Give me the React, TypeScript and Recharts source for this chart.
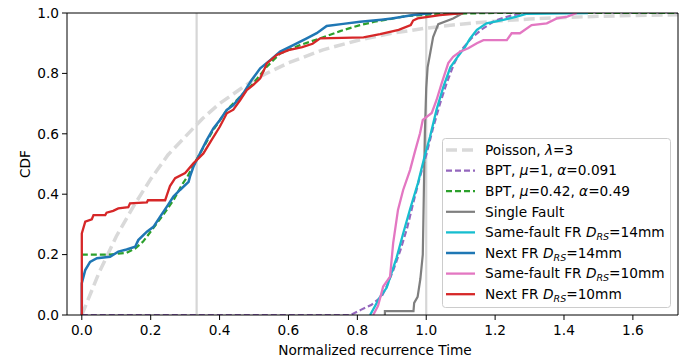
import React from "react";
import { LineChart, Line, XAxis, YAxis, ReferenceLine, Label } from "recharts";

// CDF of normalized recurrence times.
type Pt = [number, number];

const xTicks = [0, 0.2, 0.4, 0.6, 0.8, 1.0, 1.2, 1.4, 1.6];
const yTicks = [0, 0.2, 0.4, 0.6, 0.8, 1.0];
const xDomain: [number, number] = [-0.043, 1.731];
const markerXs = [1 / 3, 1.0];

const poisson: Pt[] = [
  [0, 0], [0.05, 0.14], [0.1, 0.26], [0.15, 0.36], [0.2, 0.45], [0.25, 0.53], [0.3, 0.59],
  [0.35, 0.65], [0.4, 0.7], [0.45, 0.74], [0.5, 0.78], [0.6, 0.835], [0.7, 0.878], [0.8, 0.909],
  [0.9, 0.933], [1.0, 0.95], [1.1, 0.963], [1.2, 0.973], [1.3, 0.98], [1.4, 0.985], [1.5, 0.989],
  [1.6, 0.992], [1.73, 0.994],
];

const bptNarrow: Pt[] = [
  [0, 0], [0.78, 0], [0.81, 0.017], [0.84, 0.033], [0.87, 0.06], [0.885, 0.094], [0.905, 0.15],
  [0.925, 0.215], [0.945, 0.29], [0.962, 0.37], [0.98, 0.45], [1.0, 0.53], [1.02, 0.62],
  [1.04, 0.7], [1.06, 0.77], [1.08, 0.83], [1.1, 0.875], [1.13, 0.915], [1.16, 0.945],
  [1.2, 0.975], [1.25, 0.993], [1.3, 1.0], [1.73, 1.0],
];

const bptWide: Pt[] = [
  [0, 0.2], [0.08, 0.2], [0.13, 0.206], [0.155, 0.22], [0.178, 0.243], [0.207, 0.287],
  [0.236, 0.331], [0.266, 0.38], [0.29, 0.43], [0.305, 0.455], [0.324, 0.495], [0.343, 0.535],
  [0.382, 0.613], [0.421, 0.679], [0.46, 0.723], [0.498, 0.767], [0.537, 0.822], [0.576, 0.866],
  [0.634, 0.894], [0.692, 0.916], [0.75, 0.94], [0.808, 0.96], [0.85, 0.971], [0.943, 0.99],
  [1.04, 0.997], [1.2, 1.0], [1.73, 1.0],
];

const singleFault: Pt[] = [
  [0.88, 0], [0.88, 0.013], [0.963, 0.013], [0.965, 0.04], [0.975, 0.06], [0.983, 0.12],
  [0.99, 0.2], [0.993, 0.4], [0.996, 0.6], [1.0, 0.75], [1.004, 0.82], [1.012, 0.87],
  [1.02, 0.92], [1.035, 0.963], [1.078, 0.982], [1.107, 1.0],
];

const sameFr14: Pt[] = [
  [0.837, 0], [0.866, 0.06], [0.885, 0.09], [0.914, 0.19], [0.933, 0.27], [0.953, 0.35],
  [0.976, 0.437], [0.995, 0.524], [1.011, 0.59], [1.03, 0.68], [1.05, 0.756], [1.07, 0.82],
  [1.088, 0.85], [1.113, 0.888], [1.127, 0.915], [1.147, 0.944], [1.175, 0.966], [1.224, 0.977],
  [1.263, 0.988], [1.29, 0.997], [1.47, 1.0],
];

const nextFr14: Pt[] = [
  [0, 0], [0, 0.105], [0.01, 0.149], [0.024, 0.176], [0.044, 0.188], [0.082, 0.193],
  [0.106, 0.21], [0.13, 0.217], [0.155, 0.226], [0.164, 0.248], [0.189, 0.276], [0.208, 0.292],
  [0.227, 0.325], [0.247, 0.359], [0.266, 0.392], [0.285, 0.414], [0.31, 0.441], [0.314, 0.458],
  [0.324, 0.491], [0.343, 0.535], [0.363, 0.58], [0.382, 0.618], [0.401, 0.646], [0.421, 0.679],
  [0.44, 0.695], [0.469, 0.734], [0.493, 0.778], [0.518, 0.817], [0.547, 0.844], [0.576, 0.872],
  [0.614, 0.894], [0.653, 0.916], [0.682, 0.933], [0.711, 0.957], [0.759, 0.964], [0.808, 0.971],
  [0.87, 0.978], [0.9, 0.982], [0.962, 0.993], [1.017, 1.0],
];

const sameFr10: Pt[] = [
  [0.846, 0], [0.86, 0.03], [0.875, 0.094], [0.895, 0.127], [0.904, 0.238], [0.918, 0.348],
  [0.933, 0.414], [0.953, 0.48], [0.967, 0.54], [0.982, 0.602], [0.99, 0.646], [1.016, 0.669],
  [1.03, 0.712], [1.045, 0.768], [1.064, 0.834], [1.078, 0.855], [1.098, 0.872], [1.122, 0.883],
  [1.147, 0.9], [1.166, 0.91], [1.234, 0.91], [1.248, 0.933], [1.272, 0.933], [1.306, 0.96],
  [1.35, 0.966], [1.379, 0.982], [1.41, 0.988], [1.437, 1.0],
];

const nextFr10: Pt[] = [
  [0, 0], [0, 0.27], [0.01, 0.309], [0.029, 0.317], [0.034, 0.331], [0.068, 0.331],
  [0.072, 0.339], [0.091, 0.345], [0.106, 0.353], [0.135, 0.357], [0.14, 0.37], [0.189, 0.373],
  [0.192, 0.38], [0.242, 0.38], [0.247, 0.397], [0.256, 0.427], [0.271, 0.453], [0.3, 0.47],
  [0.324, 0.502], [0.353, 0.535], [0.377, 0.58], [0.401, 0.624], [0.421, 0.668], [0.44, 0.68],
  [0.46, 0.712], [0.479, 0.745], [0.498, 0.762], [0.518, 0.784], [0.527, 0.806], [0.537, 0.833],
  [0.566, 0.861], [0.6, 0.877], [0.64, 0.887], [0.67, 0.898], [0.692, 0.916], [0.818, 0.919],
  [0.866, 0.93], [0.92, 0.944], [0.955, 0.96], [0.962, 0.975], [0.975, 0.982], [1.04, 0.993],
  [1.107, 1.0],
];

const FONT = "'DejaVu Sans', sans-serif";
const FS = 13.7;

const toRows = (pts: Pt[]) => pts.map(([x, y]) => ({ x, y }));

const italic = (s: string) => <tspan fontStyle="italic">{s}</tspan>;
const dRs = (
  <>
    {italic("D")}
    <tspan fontStyle="italic" fontSize={9.5} dy={3}>RS</tspan>
    <tspan dy={-3}>=</tspan>
  </>
);

const series = [
  { key: "poisson", data: poisson, color: "#d9d9d9", width: 3.5, dash: "11 5",
    label: <>Poisson, {italic("λ")}=3</> },
  { key: "bpt1", data: bptNarrow, color: "#9467bd", width: 2.2, dash: "6 3",
    label: <>BPT, {italic("μ")}=1, {italic("α")}=0.091</> },
  { key: "bpt2", data: bptWide, color: "#2ca02c", width: 2.2, dash: "6 3",
    label: <>BPT, {italic("μ")}=0.42, {italic("α")}=0.49</> },
  { key: "single", data: singleFault, color: "#7f7f7f", width: 2.2, dash: undefined,
    label: <>Single Fault</> },
  { key: "same14", data: sameFr14, color: "#17becf", width: 2.3, dash: undefined,
    label: <>Same-fault FR {dRs}14mm</> },
  { key: "next14", data: nextFr14, color: "#1f77b4", width: 2.5, dash: undefined,
    label: <>Next FR {dRs}14mm</> },
  { key: "same10", data: sameFr10, color: "#e377c2", width: 2.3, dash: undefined,
    label: <>Same-fault FR {dRs}10mm</> },
  { key: "next10", data: nextFr10, color: "#d62728", width: 2.3, dash: undefined,
    label: <>Next FR {dRs}10mm</> },
];

function LegendBox() {
  return (
    <svg width={231} height={172} style={{ position: "absolute", left: 441, top: 137 }}>
      <rect x={1.5} y={1.5} width={228} height={169} rx={3} fill="rgba(255,255,255,0.85)" stroke="#cccccc" />
      {series.map((s, i) => {
        const cy = 13 + i * 20.6;
        return (
          <g key={s.key}>
            <line x1={5} x2={34} y1={cy} y2={cy} stroke={s.color} strokeWidth={s.width} strokeDasharray={s.dash} />
            <text x={44} y={cy + 4.8} fontSize={FS} fontFamily={FONT} fill="#000">
              {s.label}
            </text>
          </g>
        );
      })}
    </svg>
  );
}

export default function App() {
  const tick = { fontSize: FS, fill: "#000", fontFamily: FONT };
  return (
    <div style={{ position: "absolute", left: 0, top: 0, width: 694, height: 363, background: "#fff" }}>
      <LineChart width={694} height={363} margin={{ top: 13, right: 16, bottom: 0, left: 0 }}>
        <XAxis
          dataKey="x"
          type="number"
          domain={xDomain}
          ticks={xTicks}
          allowDataOverflow
          tickFormatter={(v: number) => v.toFixed(1)}
          height={48}
          tick={tick}
          tickSize={5}
          tickMargin={5}
          stroke="#000"
        >
          <Label
            content={() => (
              <text x={375} y={355} textAnchor="middle" fontSize={FS} fontFamily={FONT} fill="#000">
                Normalized recurrence Time
              </text>
            )}
          />
        </XAxis>
        <YAxis
          dataKey="y"
          type="number"
          domain={[0, 1]}
          ticks={yTicks}
          allowDataOverflow
          tickFormatter={(v: number) => v.toFixed(1)}
          width={67}
          tick={tick}
          tickSize={5}
          tickMargin={3}
          stroke="#000"
        >
          <Label
            content={() => (
              <text x={30} y={164} transform="rotate(-90 30 164)" textAnchor="middle" fontSize={FS} fontFamily={FONT} fill="#000">
                CDF
              </text>
            )}
          />
        </YAxis>
        {markerXs.map((m) => (
          <ReferenceLine key={m} x={m} stroke="#d6d6d6" strokeWidth={2.2} />
        ))}
        {series.map((s) => (
          <Line
            key={s.key}
            data={toRows(s.data)}
            dataKey="y"
            type="linear"
            stroke={s.color}
            strokeWidth={s.width}
            strokeDasharray={s.dash}
            dot={false}
            activeDot={false}
            isAnimationActive={false}
          />
        ))}
        <ReferenceLine y={1} stroke="#000" strokeWidth={1} />
        <ReferenceLine x={xDomain[1]} stroke="#000" strokeWidth={1} />
      </LineChart>
      <LegendBox />
    </div>
  );
}
